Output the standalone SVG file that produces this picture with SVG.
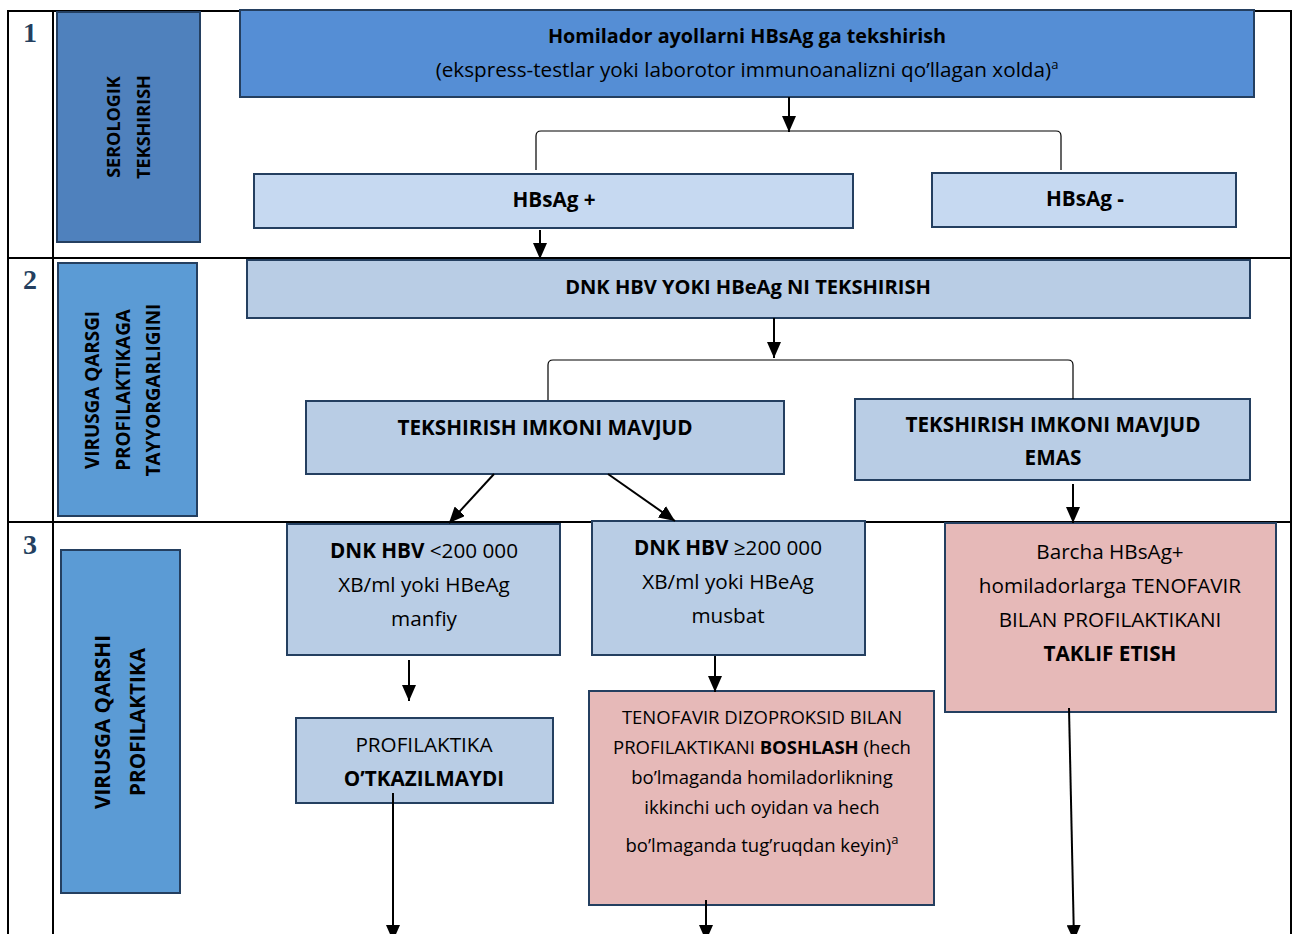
<svg xmlns="http://www.w3.org/2000/svg" width="1293" height="934" viewBox="0 0 1293 934">
<style>
.grid{stroke:#000;stroke-width:2;fill:none}
.box{stroke:#243F60;stroke-width:2}
.dark{fill:#558ED5}
.sero{fill:#4F81BD}
.side{fill:#5B9BD5}
.pale{fill:#C6D9F1}
.mid{fill:#B9CDE5}
.pink{fill:#E6B9B8}
.t{font-family:"Open Sans","Noto Sans",sans-serif;fill:#000;text-anchor:middle;font-size:20.7px}
.s{font-size:18.5px}
.b{font-weight:bold}
.sup{font-size:13px}
.num{font-family:"Liberation Serif",serif;font-weight:bold;font-size:28px;fill:#243F60;text-anchor:middle}
.con{stroke:#000;stroke-width:2;fill:none}
.thin{stroke:#000;stroke-width:1.2;fill:none}
</style>
<defs>
<marker id="ah" viewBox="0 0 16 14" refX="16" refY="7" markerWidth="16" markerHeight="14" markerUnits="userSpaceOnUse" orient="auto">
<path d="M0,0 L16,7 L0,14 Z" fill="#000"/>
</marker>
</defs>
<rect width="1293" height="934" fill="#fff"/>
<g id="table">
<path class="grid" d="M8,934 L8,11 L240,11 M1254,11 L1291,11 L1291,934 M53,11 L53,934 M8,258 L1291,258 M8,522 L1291,522"/>
<text class="num" x="30" y="42">1</text>
<text class="num" x="30" y="289">2</text>
<text class="num" x="30" y="554">3</text>
</g>
<g id="side1">
<rect class="box sero" x="57" y="12" width="143" height="230"/>
<text class="t b" style="font-size:18px" transform="translate(119.5,127) rotate(-90)">SEROLOGIK</text>
<text class="t b" style="font-size:18px" transform="translate(149.5,127) rotate(-90)">TEKSHIRISH</text>
</g>
<g id="side2">
<rect class="box side" x="58" y="263" width="139" height="253"/>
<text class="t b" style="font-size:18.9px" transform="translate(98.5,390) rotate(-90)">VIRUSGA QARSGI</text>
<text class="t b" style="font-size:18.9px" transform="translate(129.5,390) rotate(-90)">PROFILAKTIKAGA</text>
<text class="t b" style="font-size:18.9px" transform="translate(159.5,390) rotate(-90)">TAYYORGARLIGINI</text>
</g>
<g id="side3">
<rect class="box side" x="61" y="550" width="119" height="343"/>
<text class="t b" transform="translate(109.5,722) rotate(-90)">VIRUSGA QARSHI</text>
<text class="t b" transform="translate(144.5,722) rotate(-90)">PROFILAKTIKA</text>
</g>
<g id="n_top">
<rect class="box dark" x="240" y="10" width="1014" height="87"/>
<text class="t b" style="font-size:19.8px" x="747" y="43">Homilador ayollarni HBsAg ga tekshirish</text>
<text class="t" x="747" y="77">(ekspress-testlar yoki laborotor immunoanalizni qo’llagan xolda)<tspan class="sup" dy="-8">a</tspan></text>
</g>
<g id="n_pos">
<rect class="box pale" x="254" y="174" width="599" height="54"/>
<text class="t b" x="554" y="207">HBsAg +</text>
</g>
<g id="n_neg">
<rect class="box pale" x="932" y="173" width="304" height="54"/>
<text class="t b" x="1085" y="206">HBsAg -</text>
</g>
<g id="n_dnk">
<rect class="box mid" x="247" y="260" width="1003" height="58"/>
<text class="t b" style="font-size:20.1px" x="748" y="294">DNK HBV YOKI HBeAg NI TEKSHIRISH</text>
</g>
<g id="n_avail">
<rect class="box mid" x="306" y="401" width="478" height="73"/>
<text class="t b" x="545" y="435">TEKSHIRISH IMKONI MAVJUD</text>
</g>
<g id="n_notavail">
<rect class="box mid" x="855" y="399" width="395" height="81"/>
<text class="t b" x="1053" y="432">TEKSHIRISH IMKONI MAVJUD</text>
<text class="t b" x="1053" y="465">EMAS</text>
</g>
<g id="n_low">
<rect class="box mid" x="287" y="524" width="273" height="131"/>
<text class="t" x="424" y="558"><tspan font-weight="bold">DNK HBV</tspan> &lt;200 000</text>
<text class="t" x="424" y="592">XB/ml yoki HBeAg</text>
<text class="t" x="424" y="626">manfiy</text>
</g>
<g id="n_high">
<rect class="box mid" x="592" y="521" width="273" height="134"/>
<text class="t" x="728" y="555"><tspan font-weight="bold">DNK HBV</tspan> ≥200 000</text>
<text class="t" x="728" y="589">XB/ml yoki HBeAg</text>
<text class="t" x="728" y="623">musbat</text>
</g>
<g id="n_all">
<rect class="box pink" x="945" y="523" width="331" height="189"/>
<text class="t" x="1110" y="559">Barcha  HBsAg+</text>
<text class="t" x="1110" y="593">homiladorlarga TENOFAVIR</text>
<text class="t" x="1110" y="627">BILAN PROFILAKTIKANI</text>
<text class="t b" x="1110" y="661">TAKLIF ETISH</text>
</g>
<g id="n_none">
<rect class="box mid" x="296" y="718" width="257" height="85"/>
<text class="t" x="424" y="752">PROFILAKTIKA</text>
<text class="t b" x="424" y="786">O’TKAZILMAYDI</text>
</g>
<g id="n_start">
<rect class="box pink" x="589" y="691" width="345" height="214"/>
<text class="t s" x="762" y="724">TENOFAVIR DIZOPROKSID BILAN</text>
<text class="t s" x="762" y="754">PROFILAKTIKANI <tspan font-weight="bold">BOSHLASH</tspan> (hech</text>
<text class="t s" x="762" y="784">bo’lmaganda homiladorlikning</text>
<text class="t s" x="762" y="814">ikkinchi uch oyidan va hech</text>
<text class="t s" x="762" y="852">bo’lmaganda tug’ruqdan keyin)<tspan class="sup" dy="-8">a</tspan></text>
</g>
<g id="connectors">
<path class="con" d="M789,97 L789,132" marker-end="url(#ah)"/>
<path class="thin" d="M536,170 L536,136 Q536,131 541,131 L1056,131 Q1061,131 1061,136 L1061,170"/>
<path class="con" d="M540,230 L540,259" marker-end="url(#ah)"/>
<path class="con" d="M774,318 L774,358" marker-end="url(#ah)"/>
<path class="thin" d="M548,400 L548,365 Q548,360 553,360 L1068,360 Q1073,360 1073,365 L1073,399"/>
<path class="con" d="M494,474 L449,523" marker-end="url(#ah)"/>
<path class="con" d="M608,474 L675,521" marker-end="url(#ah)"/>
<path class="con" d="M1073,484 L1073,523" marker-end="url(#ah)"/>
<path class="con" d="M409,660 L409,701" marker-end="url(#ah)"/>
<path class="con" d="M715,656 L715,692" marker-end="url(#ah)"/>
<path class="con" d="M393,793 L393,941" marker-end="url(#ah)"/>
<path class="con" d="M706,900 L706,941" marker-end="url(#ah)"/>
<path class="con" d="M1069,708 L1074,941" marker-end="url(#ah)"/>
</g>
</svg>
